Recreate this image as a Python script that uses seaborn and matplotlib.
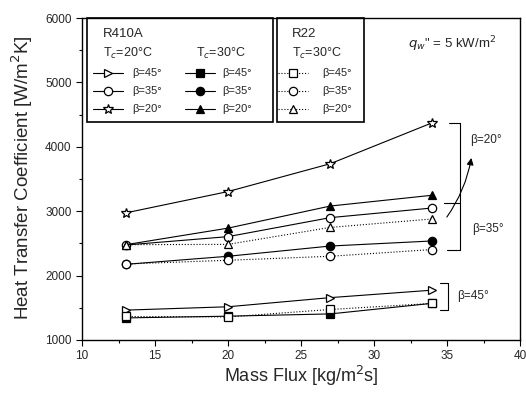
import numpy as np
import pandas as pd
import matplotlib
matplotlib.use("Agg")
import matplotlib.pyplot as plt
import seaborn as sns
from matplotlib.lines import Line2D
from matplotlib.patches import Rectangle, FancyArrowPatch

# ---- data ----
mass_flux = [13, 20, 27, 34]
r410a_20_b45 = [1464, 1516, 1658, 1774]
r410a_20_b35 = [2475, 2605, 2900, 3050]
r410a_20_b20 = [2974, 3305, 3737, 4374]
r410a_30_b45 = [1343, 1370, 1405, 1570]
r410a_30_b35 = [2175, 2300, 2459, 2538]
r410a_30_b20 = [2480, 2737, 3080, 3248]
r22_30_b45 = [1365, 1358, 1474, 1568]
r22_30_b35 = [2180, 2238, 2300, 2405]
r22_30_b20 = [2480, 2485, 2748, 2880]

x_ticks = [10, 15, 20, 25, 30, 35, 40]
y_ticks = [1000, 2000, 3000, 4000, 5000, 6000]

series = [
    (r410a_20_b45, '>', 'white', '-'),
    (r410a_20_b35, 'o', 'white', '-'),
    (r410a_20_b20, '*', 'white', '-'),
    (r410a_30_b45, 's', 'black', '-'),
    (r410a_30_b35, 'o', 'black', '-'),
    (r410a_30_b20, '^', 'black', '-'),
    (r22_30_b45, 's', 'white', ':'),
    (r22_30_b35, 'o', 'white', ':'),
    (r22_30_b20, '^', 'white', ':'),
]

sns.set_style("ticks")
plt.rcParams['font.family'] = ['Liberation Sans', 'DejaVu Sans']

W, H = 526, 394
fig = plt.figure(figsize=(W / 100, H / 100), dpi=100)
ax = fig.add_axes([82 / W, 1 - 340 / H, (520 - 82) / W, (340 - 18) / H])

def msize(m):
    return 7.5 if m == '*' else 6.0

for vals, m, fc, ls in series:
    sns.lineplot(x=mass_flux, y=vals, ax=ax, color='black', linestyle=ls,
                 linewidth=0.8, marker=m, markersize=msize(m), markerfacecolor=fc,
                 markeredgecolor='black', markeredgewidth=0.9)

ax.set_xlim(10, 40)
ax.set_ylim(1000, 6000)
ax.set_xticks(x_ticks)
ax.set_yticks(y_ticks)
ax.set_xticks(np.arange(12.5, 40, 5), minor=True)
ax.set_yticks(np.arange(1500, 6000, 1000), minor=True)
ax.tick_params(axis='both', which='major', labelsize=8.5, length=4, width=0.8, direction='out', color='black')
ax.tick_params(axis='both', which='minor', length=2.5, width=0.8, direction='out', color='black')
for s in ax.spines.values():
    s.set_linewidth(1.0)
    s.set_color('black')
ax.set_xlabel("Mass Flux [kg/m$^2$s]", fontsize=13)
ax.set_ylabel("Heat Transfer Coefficient [W/m$^2$K]", fontsize=13.5)
ax.xaxis.set_label_coords(0.5, -0.075)
ax.yaxis.set_label_coords(-0.107, 0.505)

# ---- legend boxes (figure pixel coords) ----
def fx(px):
    return px / W

def fy(py):
    return 1 - py / H

fig.add_artist(Rectangle((fx(87), fy(122)), fx(273) - fx(87), fy(18) - fy(122),
                         transform=fig.transFigure, fill=False, lw=1.2, ec='black'))
fig.add_artist(Rectangle((fx(277), fy(122)), fx(364) - fx(277), fy(18) - fy(122),
                         transform=fig.transFigure, fill=False, lw=1.2, ec='black'))

fs = 9
fig.text(fx(103), fy(34), "R410A", fontsize=9.5, va='center')
fig.text(fx(103), fy(53), "T$_c$=20°C", fontsize=fs, va='center')
fig.text(fx(196), fy(53), "T$_c$=30°C", fontsize=fs, va='center')
fig.text(fx(292), fy(34), "R22", fontsize=9.5, va='center')
fig.text(fx(292), fy(53), "T$_c$=30°C", fontsize=fs, va='center')

rows_y = [73, 91, 109]
labels = ["β=45°", "β=35°", "β=20°"]
cols = [(93, 123, 132, series[0:3]), (185, 215, 222, series[3:6]), (278, 308, 322, series[6:9])]
for x0, x1, xt, ser in cols:
    for ry, lab, (vals, m, fc, ls) in zip(rows_y, labels, ser):
        fig.add_artist(Line2D([fx(x0), fx(x1)], [fy(ry), fy(ry)], transform=fig.transFigure,
                              color='black', lw=0.8, ls=ls))
        fig.add_artist(Line2D([fx((x0 + x1) / 2)], [fy(ry)], transform=fig.transFigure,
                              marker=m, markersize=msize(m), markerfacecolor=fc,
                              markeredgecolor='black', markeredgewidth=0.9, ls='none'))
        fig.text(fx(xt), fy(ry), lab, fontsize=8, va='center')

fig.text(fx(408), fy(44), "$q_w$\" = 5 kW/m$^2$", fontsize=9.5, va='center')

# ---- annotations (data coords) ----
k = dict(color='black', lw=0.8)
ax.plot([35.16, 35.86], [4374, 4374], **k)
ax.plot([35.86, 35.86], [4374, 2401], **k)
ax.plot([34.82, 35.86], [3127, 3127], **k)
ax.plot([35.02, 35.86], [2401, 2401], **k)
ax.plot([34.54, 35.09], [1880, 1880], **k)
ax.plot([35.09, 35.09], [1880, 1469], **k)
ax.plot([34.54, 35.09], [1469, 1469], **k)
arr = FancyArrowPatch((34.88, 2874), (36.7, 3869), connectionstyle="arc3,rad=0.12",
                      arrowstyle='-|>,head_length=4,head_width=2', color='black', lw=0.8,
                      mutation_scale=1)
ax.add_patch(arr)
ax.text(36.6, 4106, "β=20°", fontsize=8.5, va='center')
ax.text(36.73, 2716, "β=35°", fontsize=8.5, va='center')
ax.text(35.7, 1690, "β=45°", fontsize=8.5, va='center')

fig.savefig("out.png", dpi=100)
